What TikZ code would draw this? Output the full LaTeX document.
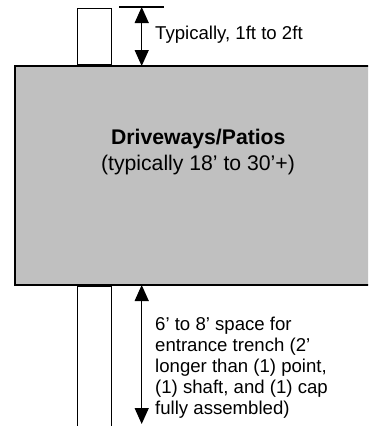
\documentclass[tikz,border=0pt]{standalone}
\usepackage{fontspec}
\setmainfont{Liberation Sans}
\usetikzlibrary{arrows.meta}
\definecolor{slabgray}{RGB}{192,192,192}
\begin{document}
\begin{tikzpicture}[x=1pt,y=-1pt,
  slab/.style={draw=black, line width=1.8pt, fill=slabgray, inner sep=0pt, outer sep=0pt},
  post/.style={draw=black, line width=1.4pt, fill=white, inner sep=0pt, outer sep=0pt},
  dim/.style={draw=black, line width=1.3pt, {Triangle[length=16pt,width=14pt]}-{Triangle[length=16pt,width=14pt]}},
  tick/.style={draw=black, line width=1.3pt},
  sidetext/.style={inner sep=0pt, anchor=base west, font=\fontsize{18.6}{21}\selectfont},
  boxtext/.style={inner sep=0pt, anchor=base, font=\fontsize{21.2}{26}\selectfont}]
\useasboundingbox (0,0) rectangle (368,426);
\begin{scope}
\clip (0,0) rectangle (368,426);
% slab
\node[slab, minimum width=365.7pt, minimum height=219pt] (slab) at (198.2,175.5) {};
% posts
\node[post, minimum width=34pt, minimum height=56.7pt] (posttop) at (94.7,36.65) {};
\node[post, minimum width=34pt, minimum height=160pt] (postbot) at (94.7,366.7) {};
% top dimension
\coordinate (tl) at (119,7);
\coordinate (tr) at (164,7);
\coordinate (ta) at (141.7,7);
\draw[tick] (tl) -- (tr);
\draw[dim] (ta) -- (ta |- slab.north);
% bottom dimension
\coordinate (bb) at (141.7,424);
\draw[dim] (bb |- slab.south) -- (bb);
\end{scope}
% texts
\node[sidetext] (ttop) at (155,39.3) {Typically, 1ft to 2ft};
\node[boxtext] (title) at (198.3,144) {\bfseries Driveways/Patios};
\node[boxtext] (sub) at (198,170) {(typically 18’ to 30’+)};
\node[sidetext] (b1) at (155,330) {6’ to 8’ space for};
\node[sidetext] (b2) at (155,351) {entrance trench (2’};
\node[sidetext] (b3) at (155,372) {longer than (1) point,};
\node[sidetext] (b4) at (155,393) {(1) shaft, and (1) cap};
\node[sidetext] (b5) at (155,414) {fully assembled)};
\end{tikzpicture}
\end{document}
